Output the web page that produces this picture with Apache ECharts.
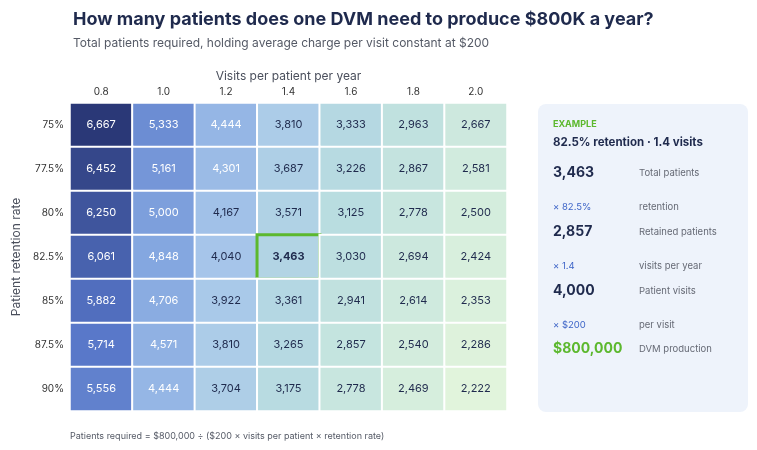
<!DOCTYPE html>
<html><head><meta charset="utf-8">
<script src="https://cdn.jsdelivr.net/npm/echarts@6/dist/echarts.min.js"></script>
<style>html,body{margin:0;padding:0;background:#fff}#c{width:757px;height:450px}</style>
</head><body><div id="c"></div>
<script>
const visits = ['0.8','1.0','1.2','1.4','1.6','1.8','2.0'];
const retention = ['75%','77.5%','80%','82.5%','85%','87.5%','90%'];
const r75 = [6667,5333,4444,3810,3333,2963,2667];
const r775 = [6452,5161,4301,3687,3226,2867,2581];
const r80 = [6250,5000,4167,3571,3125,2778,2500];
const r825 = [6061,4848,4040,3463,3030,2694,2424];
const r85 = [5882,4706,3922,3361,2941,2614,2353];
const r875 = [5714,4571,3810,3265,2857,2540,2286];
const r90 = [5556,4444,3704,3175,2778,2469,2222];
const rows = [r75,r775,r80,r825,r85,r875,r90];
const F = 'Inter, "Noto Sans", sans-serif';
const data = [];
rows.forEach((row, yi) => row.forEach((v, xi) => {
  const d = {value: [xi, yi, v]};
  if (yi === 3 && xi === 3) {
    d.itemStyle = {borderColor: '#5cb82e', borderWidth: 3};
    d.label = {fontWeight: 'bold'};
  }
  data.push(d);
}));
const chart = echarts.init(document.getElementById('c'));
const panelX = 538, panelY = 104;
function t(x, y, text, size, color, weight) {
  return {type: 'text', left: x, top: y, style: {text, fontSize: size, fill: color, fontWeight: weight || 'normal', fontFamily: F}};
}
chart.setOption({
  animation: false,
  title: {
    text: 'How many patients does one DVM need to produce $800K a year?',
    subtext: 'Total patients required, holding average charge per visit constant at $200',
    left: 68, top: 6, itemGap: 8,
    textStyle: {fontSize: 18, fontWeight: 'bold', color: '#1f2a4d', fontFamily: F},
    subtextStyle: {fontSize: 12, color: '#555a66', fontFamily: F}
  },
  grid: {left: 70, right: 250, top: 103, bottom: 39},
  xAxis: {
    type: 'category', data: visits, position: 'top',
    name: 'Visits per patient per year', nameLocation: 'middle', nameGap: 20,
    nameTextStyle: {fontSize: 12, color: '#4a4f5c', fontFamily: F},
    axisLine: {show: false}, axisTick: {show: false}, splitArea: {show: false},
    axisLabel: {fontSize: 10, color: '#333', margin: 6, fontFamily: F}
  },
  yAxis: {
    type: 'category', data: retention, inverse: true,
    name: 'Patient retention rate', nameLocation: 'middle', nameGap: 44,
    nameTextStyle: {fontSize: 12, color: '#4a4f5c', fontFamily: F},
    axisLine: {show: false}, axisTick: {show: false},
    axisLabel: {fontSize: 10, color: '#333', margin: 6, fontFamily: F}
  },
  visualMap: {
    show: false, min: 2222, max: 6667, dimension: 2,
    inRange: {color: ['#e1f4dc', '#b9dde0', '#a8c7ea', '#82a5df', '#5675c7', '#2a3877']}
  },
  series: [{
    type: 'heatmap', data,
    itemStyle: {borderColor: '#fff', borderWidth: 2},
    label: {
      show: true, fontSize: 11, fontFamily: F,
      formatter: p => p.value[2].toLocaleString('en-US'),
      color: '#1f2a4d'
    },
    labelLayout: null
  }],
  graphic: [
    {type: 'rect', shape: {x: panelX, y: panelY, width: 210, height: 308, r: 8}, style: {fill: '#eef3fb'}},
    t(553, 120, 'EXAMPLE', 9, '#5cb82e', 'bold'),
    t(553, 137, '82.5% retention · 1.4 visits', 11.5, '#1f2a4d', 'bold'),
    t(553, 166, '3,463', 14, '#1f2a4d', 'bold'),
    t(639, 168, 'Total patients', 9.5, '#666a75'),
    t(553, 202, '× 82.5%', 9.5, '#3d64c7'),
    t(639, 202, 'retention', 9.5, '#666a75'),
    t(553, 225, '2,857', 14, '#1f2a4d', 'bold'),
    t(639, 227, 'Retained patients', 9.5, '#666a75'),
    t(553, 261, '× 1.4', 9.5, '#3d64c7'),
    t(639, 261, 'visits per year', 9.5, '#666a75'),
    t(553, 284, '4,000', 14, '#1f2a4d', 'bold'),
    t(639, 286, 'Patient visits', 9.5, '#666a75'),
    t(553, 320, '× $200', 9.5, '#3d64c7'),
    t(639, 320, 'per visit', 9.5, '#666a75'),
    t(553, 342, '$800,000', 14, '#5cb82e', 'bold'),
    t(639, 344, 'DVM production', 9.5, '#666a75'),
    t(70, 432, 'Patients required = $800,000 ÷ ($200 × visits per patient × retention rate)', 9, '#555a66')
  ]
});
// white labels on dark cells
chart.setOption({series: [{data: data.map(d => {
  const v = d.value[2];
  const lbl = Object.assign({}, d.label || {}, {color: v > 4250 ? '#ffffff' : '#1f2a4d'});
  return Object.assign({}, d, {label: lbl});
})}]});
</script></body></html>
